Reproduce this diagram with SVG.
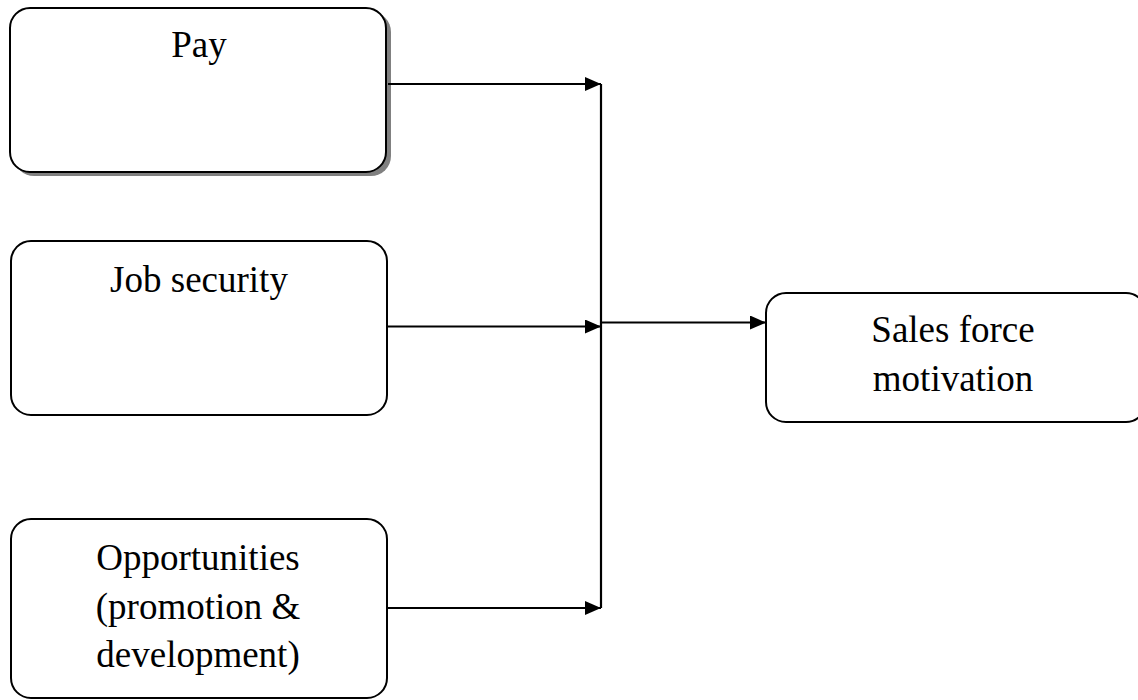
<svg xmlns="http://www.w3.org/2000/svg" width="1138" height="700" viewBox="0 0 1138 700">
<style>
.box{fill:#fff;stroke:#000;stroke-width:2}
.shadow{fill:#808080;stroke:none}
.lbl{font-family:"Liberation Serif","Times New Roman",serif;font-size:37px;fill:#000;text-anchor:middle}
.conn{stroke:#000;stroke-width:2.2;fill:none}
</style>
<defs>
<marker id="arr" markerWidth="16" markerHeight="14" refX="16" refY="7" orient="auto" markerUnits="userSpaceOnUse">
<path d="M0,0 L16,7 L0,14 Z" fill="#000"/>
</marker>
</defs>
<rect width="1138" height="700" fill="#fff"/>
<g id="node-pay">
<rect class="shadow" x="14" y="12" width="377" height="164" rx="20"/>
<rect class="box" x="10" y="8" width="376" height="164" rx="20"/>
<text class="lbl" x="199" y="57">Pay</text>
</g>
<g id="node-job">
<rect class="box" x="11" y="241" width="376" height="174" rx="20"/>
<text class="lbl" x="199" y="292">Job security</text>
</g>
<g id="node-opp">
<rect class="box" x="11" y="519" width="376" height="179" rx="20"/>
<text class="lbl" x="198" y="570">Opportunities</text>
<text class="lbl" x="198" y="619">(promotion &amp;</text>
<text class="lbl" x="198" y="667">development)</text>
</g>
<g id="node-sales">
<rect class="box" x="766" y="293" width="380" height="129" rx="20"/>
<text class="lbl" x="953" y="342">Sales force</text>
<text class="lbl" x="953" y="391">motivation</text>
</g>
<g id="connectors">
<line class="conn" x1="601" y1="84" x2="601" y2="608"/>
<line class="conn" x1="388" y1="84" x2="601" y2="84" marker-end="url(#arr)"/>
<line class="conn" x1="387" y1="326.5" x2="601" y2="326.5" marker-end="url(#arr)"/>
<line class="conn" x1="387" y1="608" x2="601" y2="608" marker-end="url(#arr)"/>
<line class="conn" x1="601" y1="322.5" x2="766" y2="322.5" marker-end="url(#arr)"/>
</g>
</svg>
